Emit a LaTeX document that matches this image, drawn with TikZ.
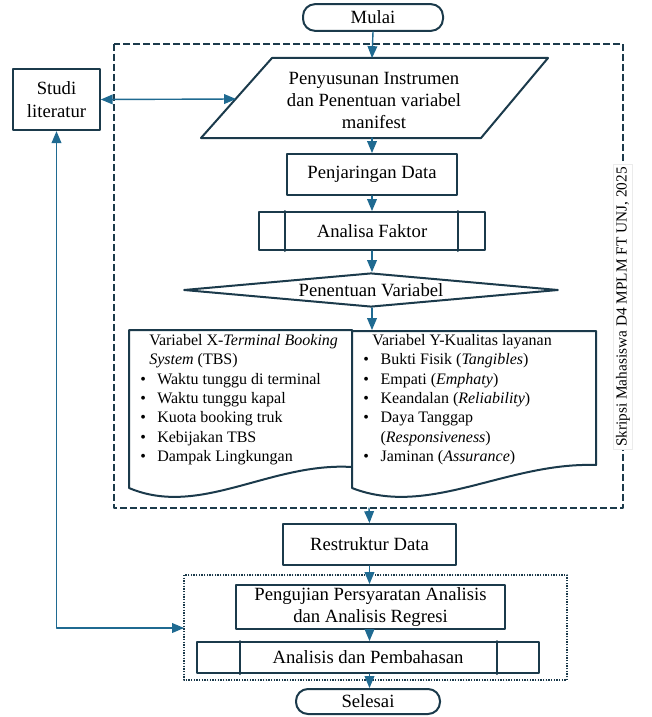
\documentclass[tikz,border=0pt]{standalone}
\usepackage{fontspec}
\setmainfont{Liberation Serif}
\usetikzlibrary{arrows,shapes.geometric}
\definecolor{rfwazr}{rgb}{0.1216,0.4157,0.5686}
\definecolor{rbtaub}{rgb}{0.1059,0.2275,0.2941}
\newcommand{\bul}[2]{\makebox[#1][l]{\textbullet}#2}

\begin{document}
\begin{tikzpicture}[line cap=round,line join=round,>=triangle 45,x=0.75pt,y=-0.75pt,
  box/.style={draw=rbtaub,line width=1.5pt,fill=white,align=center,inner sep=0pt,font=\fontsize{14}{16.5}\selectfont},
  term/.style={box,rounded corners=9pt},
  flow/.style={->,color=rfwazr,line width=1.05pt},
  list/.style={anchor=north west,align=left,inner sep=0pt,font=\fontsize{12}{14.5}\selectfont}]
\useasboundingbox (0,0) rectangle (652,717);
% kelompok
\draw [color=rbtaub,line width=1.4pt,dash pattern=on 5pt off 2.5pt,line cap=butt] (114,44) rectangle (623,508);
\draw [color=rbtaub,line width=1.2pt,dash pattern=on 1pt off 1pt,line cap=butt] (184,575) rectangle (567,680);
% simbol
\node [term,minimum width=105pt,minimum height=20pt] (mulai) at (373,17.5) {Mulai};
\node [box,minimum width=65pt,minimum height=46pt,font=\fontsize{14}{17}\selectfont] (studi) at (56.5,99.5) {Studi\\literatur};
\draw [color=rbtaub,line width=1.5pt,fill=white] (272,58)-- (548,58)-- (481,138)-- (201,138)-- cycle;
\node [align=center,inner sep=0pt,font=\fontsize{14}{16.5}\selectfont] (penyusunan) at (374,100) {Penyusunan Instrumen\\dan Penentuan variabel\\manifest};
\coordinate (partop) at (372,58);
\coordinate (parbot) at (372,138);
\coordinate (parleft) at (236,99);
\node [box,minimum width=127.5pt,minimum height=30.75pt] (jaring) at (372,174.5) {Penjaringan Data};
\node [box,minimum width=169.5pt,minimum height=28.5pt] (faktor) at (372,231) {Analisa Faktor};
\draw [color=rbtaub,line width=1.5pt] ([xshift=20.25pt]faktor.north west)-- ([xshift=20.25pt]faktor.south west);
\draw [color=rbtaub,line width=1.5pt] ([xshift=-21pt]faktor.north east)-- ([xshift=-21pt]faktor.south east);
\node [box,diamond,aspect=11,minimum width=281pt,minimum height=25.5pt] (tentu) at (371,290) {Penentuan Variabel};
% dokumen
\draw [color=rbtaub,line width=1.5pt,fill=white] (129,330)-- (352,330)-- (352,467) .. controls (270,462) and (200,518) .. (129,488)-- cycle;
\draw [color=rbtaub,line width=1.5pt,fill=white] (352,331)-- (596,331)-- (596,465) .. controls (506,462) and (429,518) .. (352,488)-- cycle;
\coordinate (doctop) at (372,330);
\node [list] (varx) at (140,334) {\hspace*{6.75pt}Variabel X-\textit{Terminal Booking}\\
  \hspace*{6.75pt}\textit{System} (TBS)\\
  \bul{12.75pt}{Waktu tunggu di terminal}\\
  \bul{12.75pt}{Waktu tunggu kapal}\\
  \bul{12.75pt}{Kuota booking truk}\\
  \bul{12.75pt}{Kebijakan TBS}\\
  \bul{12.75pt}{Dampak Lingkungan}};
\node [list] (vary) at (363,334) {\hspace*{6.75pt}Variabel Y-Kualitas layanan\\
  \bul{13pt}{Bukti Fisik (\textit{Tangibles})}\\
  \bul{13pt}{Empati (\textit{Emphaty})}\\
  \bul{13pt}{Keandalan (\textit{Reliability})}\\
  \bul{13pt}{Daya Tanggap}\\
  \hspace*{13pt}(\textit{Responsiveness})\\
  \bul{13pt}{Jaminan (\textit{Assurance})}};
\node [fill=white,draw=black!8,line width=0.4pt,rotate=90,inner sep=2pt,font=\fontsize{11.5}{14}\selectfont] (skripsi) at (623,307) {Skripsi Mahasiswa D4 MPLM FT UNJ, 2025};
\coordinate (dashbot) at (369,508);
\node [box,minimum width=129.75pt,minimum height=30.75pt] (restruktur) at (369.5,544.5) {Restruktur Data};
\node [box,minimum width=201.75pt,minimum height=33pt] (uji) at (370.5,607) {Pengujian Persyaratan Analisis\\dan Analisis Regresi};
\node [box,minimum width=256.5pt,minimum height=23.25pt] (bahas) at (368,657.5) {Analisis dan Pembahasan};
\draw [color=rbtaub,line width=1.5pt] ([xshift=33pt]bahas.north west)-- ([xshift=33pt]bahas.south west);
\draw [color=rbtaub,line width=1.5pt] ([xshift=-32.25pt]bahas.north east)-- ([xshift=-32.25pt]bahas.south east);
\node [term,minimum width=108pt,minimum height=18.75pt] (selesai) at (368,701.5) {Selesai};
\coordinate (dotwest) at (184,628);
% alur
\draw [flow] (mulai.south)-- (partop);
\draw [flow] (parbot)-- (jaring.north);
\draw [flow] (jaring.south)-- (faktor.north);
\draw [flow] (faktor.south)-- (faktor.south|-tentu.north);
\draw [flow] (faktor.south|-tentu.south)-- (doctop);
\draw [flow] (dashbot)-- (restruktur.north);
\draw [flow] (restruktur.south)-- (restruktur.south|-uji.north);
\draw [flow] (restruktur.south|-uji.south)-- (restruktur.south|-bahas.north);
\draw [flow] (restruktur.south|-bahas.south)-- (restruktur.south|-selesai.north);
\draw [flow,<->] (studi.east)-- (parleft);
\draw [flow,<->] (studi.south) |- (dotwest);
\end{tikzpicture}
\end{document}
